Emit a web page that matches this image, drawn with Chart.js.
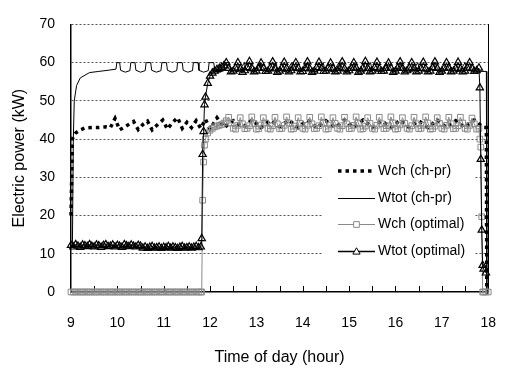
<!DOCTYPE html>
<html>
<head>
<meta charset="utf-8">
<script src="https://cdn.jsdelivr.net/npm/chart.js@4.4.1/dist/chart.umd.min.js"></script>
<style>
  html, body { margin: 0; padding: 0; background: #fff; }
</style>
</head>
<body>
<canvas id="power-chart" width="519" height="369"></canvas>
<script>
// Electric power over the working day, two control strategies

const FONT = "Arial, 'Liberation Sans', sans-serif";

// Wch (ch-pr): chiller power, thick dotted line
const hoursWchChPr = [
  9.00, 9.03, 9.06, 9.10, 9.20, 9.30, 9.45, 9.60, 9.75, 9.85,
  9.95, 10.05, 10.20, 10.35, 10.45, 10.55, 10.65, 10.75, 10.85, 10.98,
  11.08, 11.18, 11.30, 11.40, 11.50, 11.60, 11.70, 11.80, 11.90, 12.00,
  12.15, 12.30, 12.50, 12.70, 12.90, 13.10, 13.30, 13.50, 13.70, 13.90,
  14.10, 14.30, 14.50, 14.70, 14.90, 15.10, 15.30, 15.50, 15.70, 15.90,
  16.10, 16.30, 16.50, 16.70, 16.90, 17.10, 17.30, 17.50, 17.70, 17.90,
  17.96, 17.97, 18.00
];
const wchChPr = [
  20, 40, 41, 41.6, 42.4, 42.9, 43, 43, 43.2, 43,
  45.4, 42.4, 43.5, 44.6, 42.5, 43.8, 44.7, 42.4, 43.6, 45,
  42.6, 44.2, 45.6, 42.8, 44.4, 43, 44.8, 42.8, 45.2, 42.6,
  45.6, 43, 44.8, 43, 45, 43, 45, 43.2, 45, 43,
  45, 43, 44.8, 43, 45, 43, 45, 43, 44.8, 43,
  45, 43, 44.8, 43, 45, 43, 44.8, 43, 45, 43,
  43, 0, 0
];

// Wtot (ch-pr): total power, thin solid line
const hoursWtotChPr = [
  9.00, 9.03, 9.05, 9.07, 9.12, 9.20, 9.40, 9.60, 9.80, 9.97,
  9.99, 10.05, 10.07, 10.17, 10.27, 10.29, 10.38, 10.40, 10.50, 10.60,
  10.62, 10.72, 10.74, 10.84, 10.94, 10.96, 11.06, 11.08, 11.18, 11.28,
  11.30, 11.40, 11.42, 11.52, 11.62, 11.64, 11.74, 11.76, 11.86, 11.96,
  11.98, 12.08, 12.10, 12.20, 12.30, 12.32, 12.42,
  12.44, 12.62, 12.74, 12.78, 12.96, 13.08, 13.12, 13.30, 13.42,
  13.46, 13.64, 13.76, 13.80, 13.98, 14.10, 14.14, 14.32, 14.44,
  14.48, 14.66, 14.78, 14.82, 15.00, 15.12, 15.16, 15.34, 15.46,
  15.50, 15.68, 15.80, 15.84, 16.02, 16.14, 16.18, 16.36, 16.48,
  16.52, 16.70, 16.82, 16.86, 17.04, 17.16, 17.20, 17.38, 17.50,
  17.54, 17.72, 17.80, 17.96, 17.97, 18.00
];
const wtotChPr = [
  12, 12, 40, 50, 54, 56, 57.4, 57.7, 58, 58.3,
  60, 60, 58, 57.5, 57.9, 60, 60, 58, 57.5, 57.9,
  60, 60, 58, 57.5, 57.9, 60, 60, 58, 57.5, 57.9,
  60, 60, 58, 57.5, 57.9, 60, 60, 58, 57.5, 57.9,
  60, 60, 58, 57.5, 57.9, 60, 60,
  58, 57.6, 60, 58, 57.6, 60, 58, 57.6, 60,
  58, 57.6, 60, 58, 57.6, 60, 58, 57.6, 60,
  58, 57.6, 60, 58, 57.6, 60, 58, 57.6, 60,
  58, 57.6, 60, 58, 57.6, 60, 58, 57.6, 60,
  58, 57.6, 60, 58, 57.6, 60, 58, 57.6, 60,
  58, 57.6, 57.7, 57.7, 0, 0
];

// optimal control, sampled densely (markers on every sample)
const hoursOpt = [
  9.00, 9.05, 9.10, 9.15, 9.20, 9.25, 9.30, 9.35, 9.40, 9.45,
  9.50, 9.55, 9.60, 9.65, 9.70, 9.75, 9.80, 9.85, 9.90, 9.95,
  10.00, 10.05, 10.10, 10.15, 10.20, 10.25, 10.30, 10.35, 10.40, 10.45,
  10.50, 10.55, 10.60, 10.65, 10.70, 10.75, 10.80, 10.85, 10.90, 10.95,
  11.00, 11.05, 11.10, 11.15, 11.20, 11.25, 11.30, 11.35, 11.40, 11.45,
  11.50, 11.55, 11.60, 11.65, 11.70, 11.75, 11.80,
  11.82, 11.84, 11.86, 11.88, 11.90, 11.95,
  12.00, 12.05, 12.10, 12.15, 12.20, 12.25, 12.30, 12.35,
  12.40, 12.45, 12.50, 12.55, 12.60, 12.65, 12.70, 12.75, 12.80, 12.85,
  12.90, 12.95, 13.00, 13.05, 13.10, 13.15, 13.20, 13.25, 13.30, 13.35,
  13.40, 13.45, 13.50, 13.55, 13.60, 13.65, 13.70, 13.75, 13.80, 13.85,
  13.90, 13.95, 14.00, 14.05, 14.10, 14.15, 14.20, 14.25, 14.30, 14.35,
  14.40, 14.45, 14.50, 14.55, 14.60, 14.65, 14.70, 14.75, 14.80, 14.85,
  14.90, 14.95, 15.00, 15.05, 15.10, 15.15, 15.20, 15.25, 15.30, 15.35,
  15.40, 15.45, 15.50, 15.55, 15.60, 15.65, 15.70, 15.75, 15.80, 15.85,
  15.90, 15.95, 16.00, 16.05, 16.10, 16.15, 16.20, 16.25, 16.30, 16.35,
  16.40, 16.45, 16.50, 16.55, 16.60, 16.65, 16.70, 16.75, 16.80, 16.85,
  16.90, 16.95, 17.00, 17.05, 17.10, 17.15, 17.20, 17.25, 17.30, 17.35,
  17.40, 17.45, 17.50, 17.55, 17.60, 17.65, 17.70, 17.75, 17.80,
  17.82, 17.84, 17.86, 17.88, 17.90, 17.95, 18.00
];

// Wch (optimal): grey line, open squares
const wchOpt = [
  0, 0, 0, 0, 0, 0, 0, 0, 0, 0,
  0, 0, 0, 0, 0, 0, 0, 0, 0, 0,
  0, 0, 0, 0, 0, 0, 0, 0, 0, 0,
  0, 0, 0, 0, 0, 0, 0, 0, 0, 0,
  0, 0, 0, 0, 0, 0, 0, 0, 0, 0,
  0, 0, 0, 0, 0, 0, 0,
  0, 24, 34, 38.4, 40, 41.6,
  42.3, 42.8, 43.2, 43.4, 43.6, 43.8, 44.2, 44.8,
  45.7, 44.2, 42.8, 42.6, 43.6, 45.6, 44.0, 42.7, 42.8, 43.5,
  45.8, 44.1, 42.6, 42.7, 43.7, 45.6, 44.2, 42.8, 42.6, 43.5,
  45.7, 44.0, 42.7, 42.8, 43.6, 45.8, 44.2, 42.6, 42.7, 43.4,
  45.6, 44.1, 42.8, 42.6, 43.6, 45.7, 44.0, 42.7, 42.8, 43.5,
  45.8, 44.2, 42.6, 42.7, 43.7, 45.6, 44.1, 42.8, 42.6, 43.5,
  45.7, 44.0, 42.7, 42.8, 43.6, 45.8, 44.2, 42.6, 42.7, 43.4,
  45.6, 44.1, 42.8, 42.6, 43.6, 45.7, 44.0, 42.7, 42.8, 43.5,
  45.8, 44.2, 42.6, 42.7, 43.7, 45.6, 44.1, 42.8, 42.6, 43.5,
  45.7, 44.0, 42.7, 42.8, 43.6, 45.8, 44.2, 42.6, 42.7, 43.4,
  45.6, 44.1, 42.8, 42.6, 43.6, 45.7, 44.0, 42.7, 42.8, 43.5,
  45.7, 44.2, 42.8, 42.6, 43.6, 45.5, 44.0, 42.6, 42.8,
  40, 37.9, 19.7, 0, 0, 0, 0
];

// Wtot (optimal): black line, open triangles
const wtotOpt = [
  12.2, 11.8, 12.4, 12.0, 11.7, 12.3, 12.1, 11.9, 12.4, 12.0,
  11.8, 12.3, 12.1, 11.7, 12.2, 12.4, 11.9, 12.0, 12.3, 11.8,
  12.2, 12.0, 11.7, 12.4, 12.1, 11.9, 12.3, 12.0, 11.8, 12.2,
  12.0, 11.5, 11.8, 11.4, 11.7, 11.9, 11.5, 11.6, 11.8, 11.4,
  11.7, 11.6, 11.9, 11.5, 11.8, 11.6, 11.4, 11.7, 11.9, 11.5,
  11.6, 11.8, 11.5, 11.7, 11.9, 11.6, 11.8,
  14, 36, 42, 49, 51, 54.6,
  56.5, 57.3, 57.8, 58.2, 58.5, 58.8, 59.2, 60,
  58.5, 57.6, 57.8, 58.6, 60.0, 58.4, 57.5, 57.9, 58.7, 60.3,
  58.5, 57.6, 57.8, 58.5, 59.9, 58.6, 57.7, 57.8, 58.6, 60.2,
  58.4, 57.5, 57.8, 58.6, 60.1, 58.5, 57.6, 57.9, 58.6, 60.0,
  58.6, 57.6, 57.7, 58.5, 60.2, 58.4, 57.5, 57.8, 58.7, 60.1,
  58.5, 57.7, 57.8, 58.6, 59.9, 58.5, 57.6, 57.8, 58.6, 60.2,
  58.4, 57.6, 57.9, 58.5, 60.0, 58.6, 57.5, 57.8, 58.6, 60.3,
  58.5, 57.6, 57.8, 58.7, 60.1, 58.4, 57.7, 57.8, 58.5, 59.9,
  58.6, 57.5, 57.8, 58.6, 60.2, 58.5, 57.6, 57.9, 58.6, 60.0,
  58.5, 57.6, 57.8, 58.5, 60.1, 58.4, 57.6, 57.8, 58.7, 60.2,
  58.5, 57.5, 57.8, 58.6, 60.0, 58.6, 57.6, 57.8, 58.5, 60.1,
  58.4, 57.6, 57.8, 58.6, 60.0, 58.5, 57.7, 57.9, 58.6,
  53.4, 34.7, 16.2, 7, 6, 5, null
];

// small tick marks on the time axis (every half hour)
const minorTicks = [9.5, 10, 10.5, 11, 11.5, 12, 12.5, 13, 13.5, 14, 14.5, 15, 15.5, 16, 16.5, 17, 17.5, 18];

const legendLabels = ["Wch (ch-pr)", "Wtot (ch-pr)", "Wch (optimal)", "Wtot (optimal)"];

function toPoints(hours, values) {
  const pts = [];
  hours.forEach((h, i) => {
    if (values[i] !== null && values[i] !== undefined) pts.push({ x: h, y: values[i] });
  });
  return pts;
}

// inward tick marks on the x axis, under the data
const halfHourTicks = {
  id: "halfHourTicks",
  beforeDatasetsDraw(chart) {
    const { ctx, chartArea } = chart;
    const x = chart.scales.x;
    ctx.save();
    ctx.strokeStyle = "#000";
    ctx.lineWidth = 1;
    ctx.beginPath();
    minorTicks.forEach((h) => {
      const px = Math.round(x.getPixelForValue(h)) + 0.5;
      ctx.moveTo(px, chartArea.bottom);
      ctx.lineTo(px, chartArea.bottom - 6);
    });
    ctx.stroke();
    ctx.restore();
  }
};

// boxed legend inside the plot
const legendBox = {
  id: "legendBox",
  afterDraw(chart) {
    const ctx = chart.ctx;
    const x0 = 338, x1 = 375, tx = 378;
    const rows = [171, 198, 224, 251];
    ctx.save();
    ctx.fillStyle = "#fff";
    ctx.fillRect(323, 159, 152, 104);

    // Wch (ch-pr)
    ctx.strokeStyle = "#000";
    ctx.lineWidth = 3.5;
    ctx.setLineDash([3.5, 4]);
    ctx.beginPath();
    ctx.moveTo(x0, rows[0]);
    ctx.lineTo(x1, rows[0]);
    ctx.stroke();
    ctx.setLineDash([]);

    // Wtot (ch-pr)
    ctx.lineWidth = 1;
    ctx.beginPath();
    ctx.moveTo(x0, rows[1] + 0.5);
    ctx.lineTo(x1, rows[1] + 0.5);
    ctx.stroke();

    // Wch (optimal)
    ctx.strokeStyle = "#8a8a8a";
    ctx.beginPath();
    ctx.moveTo(x0, rows[2] + 0.5);
    ctx.lineTo(x1, rows[2] + 0.5);
    ctx.stroke();
    ctx.fillStyle = "#fff";
    Chart.helpers.drawPoint(ctx, { pointStyle: "rect", radius: 4, borderWidth: 1, rotation: 0 }, (x0 + x1) / 2, rows[2] + 0.5);

    // Wtot (optimal)
    ctx.strokeStyle = "#000";
    ctx.lineWidth = 1.3;
    ctx.beginPath();
    ctx.moveTo(x0, rows[3] + 0.5);
    ctx.lineTo(x1, rows[3] + 0.5);
    ctx.stroke();
    ctx.lineWidth = 1;
    ctx.fillStyle = "#fff";
    Chart.helpers.drawPoint(ctx, { pointStyle: "triangle", radius: 4.2, borderWidth: 1, rotation: 0 }, (x0 + x1) / 2, rows[3] + 1);

    ctx.fillStyle = "#000";
    ctx.font = "14px " + FONT;
    ctx.textBaseline = "middle";
    legendLabels.forEach((label, i) => ctx.fillText(label, tx, rows[i]));
    ctx.restore();
  }
};

const ctx = document.getElementById("power-chart");

new Chart(ctx, {
  type: "line",
  data: {
    datasets: [
      {
        label: legendLabels[3],
        data: toPoints(hoursOpt, wtotOpt),
        borderColor: "#000",
        borderWidth: 1,
        pointStyle: "triangle",
        pointRadius: 4.2,
        pointBackgroundColor: "rgba(255,255,255,0)",
        pointBorderColor: "#000",
        pointBorderWidth: 1.2,
        tension: 0,
        clip: false,
        order: 1
      },
      {
        label: legendLabels[2],
        data: toPoints(hoursOpt, wchOpt),
        borderColor: "#8a8a8a",
        borderWidth: 1,
        pointStyle: "rect",
        pointRadius: 4,
        pointBackgroundColor: "rgba(255,255,255,0)",
        pointBorderColor: "#8a8a8a",
        pointBorderWidth: 1,
        tension: 0,
        clip: false,
        order: 2
      },
      {
        label: legendLabels[0],
        data: toPoints(hoursWchChPr, wchChPr),
        borderColor: "#000",
        borderWidth: 3.5,
        borderDash: [3.5, 4],
        pointRadius: 0,
        tension: 0,
        clip: false,
        order: 3
      },
      {
        label: legendLabels[1],
        data: toPoints(hoursWtotChPr, wtotChPr),
        borderColor: "#000",
        borderWidth: 1,
        pointRadius: 0,
        tension: 0,
        clip: false,
        order: 4
      }
    ]
  },
  options: {
    responsive: false,
    animation: false,
    events: [],
    layout: { padding: { left: 0, right: 14, top: 11, bottom: 0 } },
    plugins: {
      legend: { display: false },
      tooltip: { enabled: false }
    },
    scales: {
      x: {
        type: "linear",
        min: 9,
        max: 18,
        grid: { display: false, drawTicks: false },
        border: { display: true, color: "#000", width: 1.5 },
        ticks: {
          stepSize: 1,
          padding: 23,
          color: "#000",
          maxRotation: 0,
          font: { family: FONT, size: 14 }
        },
        title: {
          display: true,
          text: "Time of day (hour)",
          color: "#000",
          font: { family: FONT, size: 16 },
          padding: { top: 0, bottom: 2 }
        },
        afterFit: (scale) => { scale.height = 77; }
      },
      y: {
        min: 0,
        max: 70,
        grid: {
          color: (c) => (c.tick && c.tick.value === 0 ? "rgba(0,0,0,0)" : "#555"),
          lineWidth: 1,
          drawTicks: false
        },
        border: { display: true, color: "#000", width: 1.5, dash: [2, 2] },
        ticks: {
          stepSize: 10,
          padding: 16,
          color: "#000",
          font: { family: FONT, size: 14 }
        },
        title: {
          display: true,
          text: "Electric power (kW)",
          color: "#000",
          font: { family: FONT, size: 16 },
          padding: { top: 10, bottom: 0 }
        },
        afterFit: (scale) => { scale.width = 71; }
      },
      y2: {
        position: "right",
        min: 0,
        max: 70,
        ticks: { display: false },
        grid: { display: false, drawTicks: false },
        border: { display: true, color: "#000", width: 1 },
        afterFit: (scale) => { scale.width = 0; }
      }
    }
  },
  plugins: [halfHourTicks, legendBox]
});
</script>
</body>
</html>
